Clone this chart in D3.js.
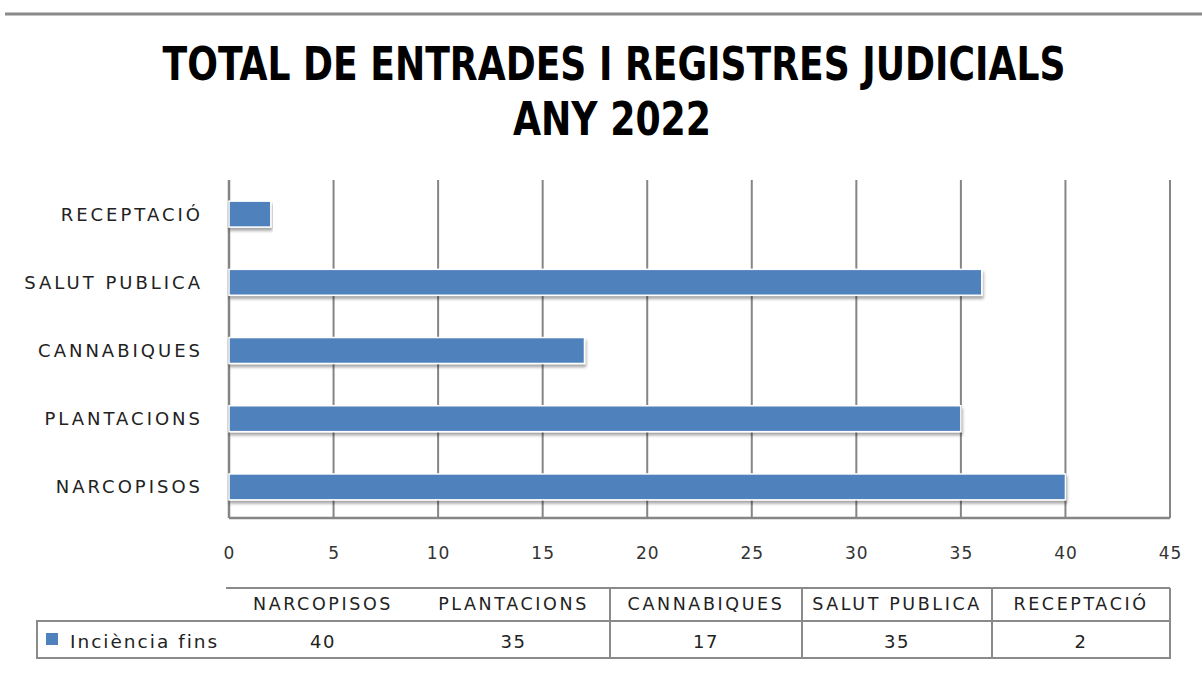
<!DOCTYPE html>
<html>
<head>
<meta charset="utf-8">
<script src="https://cdn.jsdelivr.net/npm/d3@7"></script>
<style>
  html, body { margin: 0; padding: 0; background: #fff; }
  svg { display: block; }
</style>
</head>
<body>
<svg id="chart" width="1202" height="679"></svg>
<script>
// ---- data ----
const categories = ["NARCOPISOS", "PLANTACIONS", "CANNABIQUES", "SALUT PUBLICA", "RECEPTACIÓ"];
const values = [40, 35, 17, 36, 2];            // bar lengths as drawn
const tableValues = ["40", "35", "17", "35", "2"]; // values printed in the data table
const seriesName = "Inciència fins";
const xTicks = [0, 5, 10, 15, 20, 25, 30, 35, 40, 45];
const titleLines = ["TOTAL DE ENTRADES I REGISTRES JUDICIALS", "ANY 2022"];

const svg = d3.select("#chart");
const barColor = "#4F81BD";
const gridColor = "#858585";

// drop shadow filter
const defs = svg.append("defs");
const f = defs.append("filter").attr("id", "shadow").attr("x", "-5%").attr("y", "-30%").attr("width", "110%").attr("height", "180%");
f.append("feDropShadow").attr("dx", 1).attr("dy", 3).attr("stdDeviation", 1.6).attr("flood-color", "#000").attr("flood-opacity", 0.35);

// top rule
svg.append("line").attr("x1", 5).attr("x2", 1202).attr("y1", 14).attr("y2", 14)
  .attr("stroke", "#8a8a8a").attr("stroke-width", 3);

// title (condensed bold, stretched vertically)
const titleFont = "'DejaVu Sans Condensed', 'Liberation Sans Narrow', sans-serif";
const tScale = 1.3;
svg.append("text").attr("transform", `translate(614,80) scale(1,${tScale})`)
  .attr("text-anchor", "middle")
  .attr("font-family", titleFont).attr("font-weight", "bold").attr("font-size", 36)
  .attr("textLength", 903).attr("lengthAdjust", "spacingAndGlyphs")
  .attr("fill", "#000").text(titleLines[0]);
svg.append("text").attr("transform", `translate(612,135) scale(1,${tScale})`)
  .attr("text-anchor", "middle")
  .attr("font-family", titleFont).attr("font-weight", "bold").attr("font-size", 36)
  .attr("textLength", 198).attr("lengthAdjust", "spacingAndGlyphs")
  .attr("fill", "#000").text(titleLines[1]);

// scales
const plot = { left: 229, right: 1170, top: 180, bottom: 518 };
const x = d3.scaleLinear().domain([0, 45]).range([plot.left, plot.right]);
const y = d3.scaleBand().domain(categories).range([521, 180]).paddingInner(0.62).paddingOuter(0.31);

const labelFont = "'DejaVu Sans', Verdana, sans-serif";

// gridlines
svg.append("g").selectAll("line").data(xTicks).join("line")
  .attr("x1", d => x(d)).attr("x2", d => x(d))
  .attr("y1", plot.top).attr("y2", plot.bottom)
  .attr("stroke", gridColor).attr("stroke-width", 2);

// bottom axis line
svg.append("line").attr("x1", plot.left).attr("x2", plot.right)
  .attr("y1", plot.bottom).attr("y2", plot.bottom)
  .attr("stroke", gridColor).attr("stroke-width", 2.5);

// x axis tick labels
const xAxis = d3.axisBottom(x).tickValues(xTicks).tickSize(0).tickPadding(0);
const gx = svg.append("g").attr("transform", `translate(0,${plot.bottom})`).call(xAxis);
gx.select(".domain").remove();
gx.selectAll("text").attr("dy", null).attr("y", 41)
  .attr("font-family", labelFont).attr("font-size", 17).attr("fill", "#333")
  .attr("letter-spacing", 1);

// y axis labels
const yAxis = d3.axisLeft(y).tickSize(0).tickPadding(0);
const gy = svg.append("g").attr("transform", `translate(203,0)`).call(yAxis);
gy.select(".domain").remove();
gy.selectAll("text").attr("dy", "0.36em")
  .attr("font-family", labelFont).attr("font-size", 18).attr("fill", "#222")
  .attr("letter-spacing", 3);

// left axis line
svg.append("line").attr("x1", plot.left).attr("x2", plot.left)
  .attr("y1", plot.top).attr("y2", plot.bottom)
  .attr("stroke", gridColor).attr("stroke-width", 2.5);

// bars
svg.append("g").selectAll("rect").data(categories).join("rect")
  .attr("x", x(0))
  .attr("y", d => y(d))
  .attr("width", (d, i) => x(values[i]) - x(0))
  .attr("height", y.bandwidth())
  .attr("fill", barColor)
  .attr("stroke", "#fff").attr("stroke-width", 1.5)
  .attr("filter", "url(#shadow)");

// ---- data table ----
const tColor = "#8a8a8a";
const colEdges = [229, 417, 610, 802, 992, 1170];
const tHeaderTop = 588, tRowTop = 621, tRowBottom = 658, tLeft = 37;
const tg = svg.append("g");
tg.append("line").attr("x1", 226).attr("x2", 1170).attr("y1", tHeaderTop).attr("y2", tHeaderTop)
  .attr("stroke", tColor).attr("stroke-width", 2);
tg.append("rect").attr("x", tLeft).attr("y", tRowTop).attr("width", 1170 - tLeft).attr("height", tRowBottom - tRowTop)
  .attr("fill", "none").attr("stroke", tColor).attr("stroke-width", 2);
tg.append("line").attr("x1", 1170).attr("x2", 1170).attr("y1", tHeaderTop).attr("y2", tRowTop)
  .attr("stroke", tColor).attr("stroke-width", 2);
tg.selectAll("line.sep").data(colEdges.slice(2, 5)).join("line").attr("class", "sep")
  .attr("x1", d => d).attr("x2", d => d).attr("y1", tHeaderTop).attr("y2", tRowBottom)
  .attr("stroke", tColor).attr("stroke-width", 2);
tg.selectAll("text.h").data(categories).join("text").attr("class", "h")
  .attr("x", (d, i) => (colEdges[i] + colEdges[i + 1]) / 2).attr("y", 610)
  .attr("text-anchor", "middle").attr("font-family", labelFont).attr("font-size", 17.5)
  .attr("letter-spacing", 2.6).attr("fill", "#222").text(d => d);
tg.selectAll("text.v").data(tableValues).join("text").attr("class", "v")
  .attr("x", (d, i) => (colEdges[i] + colEdges[i + 1]) / 2).attr("y", 648)
  .attr("text-anchor", "middle").attr("font-family", labelFont).attr("font-size", 18)
  .attr("letter-spacing", 1.5).attr("fill", "#222").text(d => d);
tg.append("rect").attr("x", 46).attr("y", 633).attr("width", 12).attr("height", 12).attr("fill", barColor);
tg.append("text").attr("x", 70).attr("y", 648).attr("font-family", labelFont).attr("font-size", 18.5)
  .attr("letter-spacing", 2).attr("fill", "#222").text(seriesName);
</script>
</body>
</html>
